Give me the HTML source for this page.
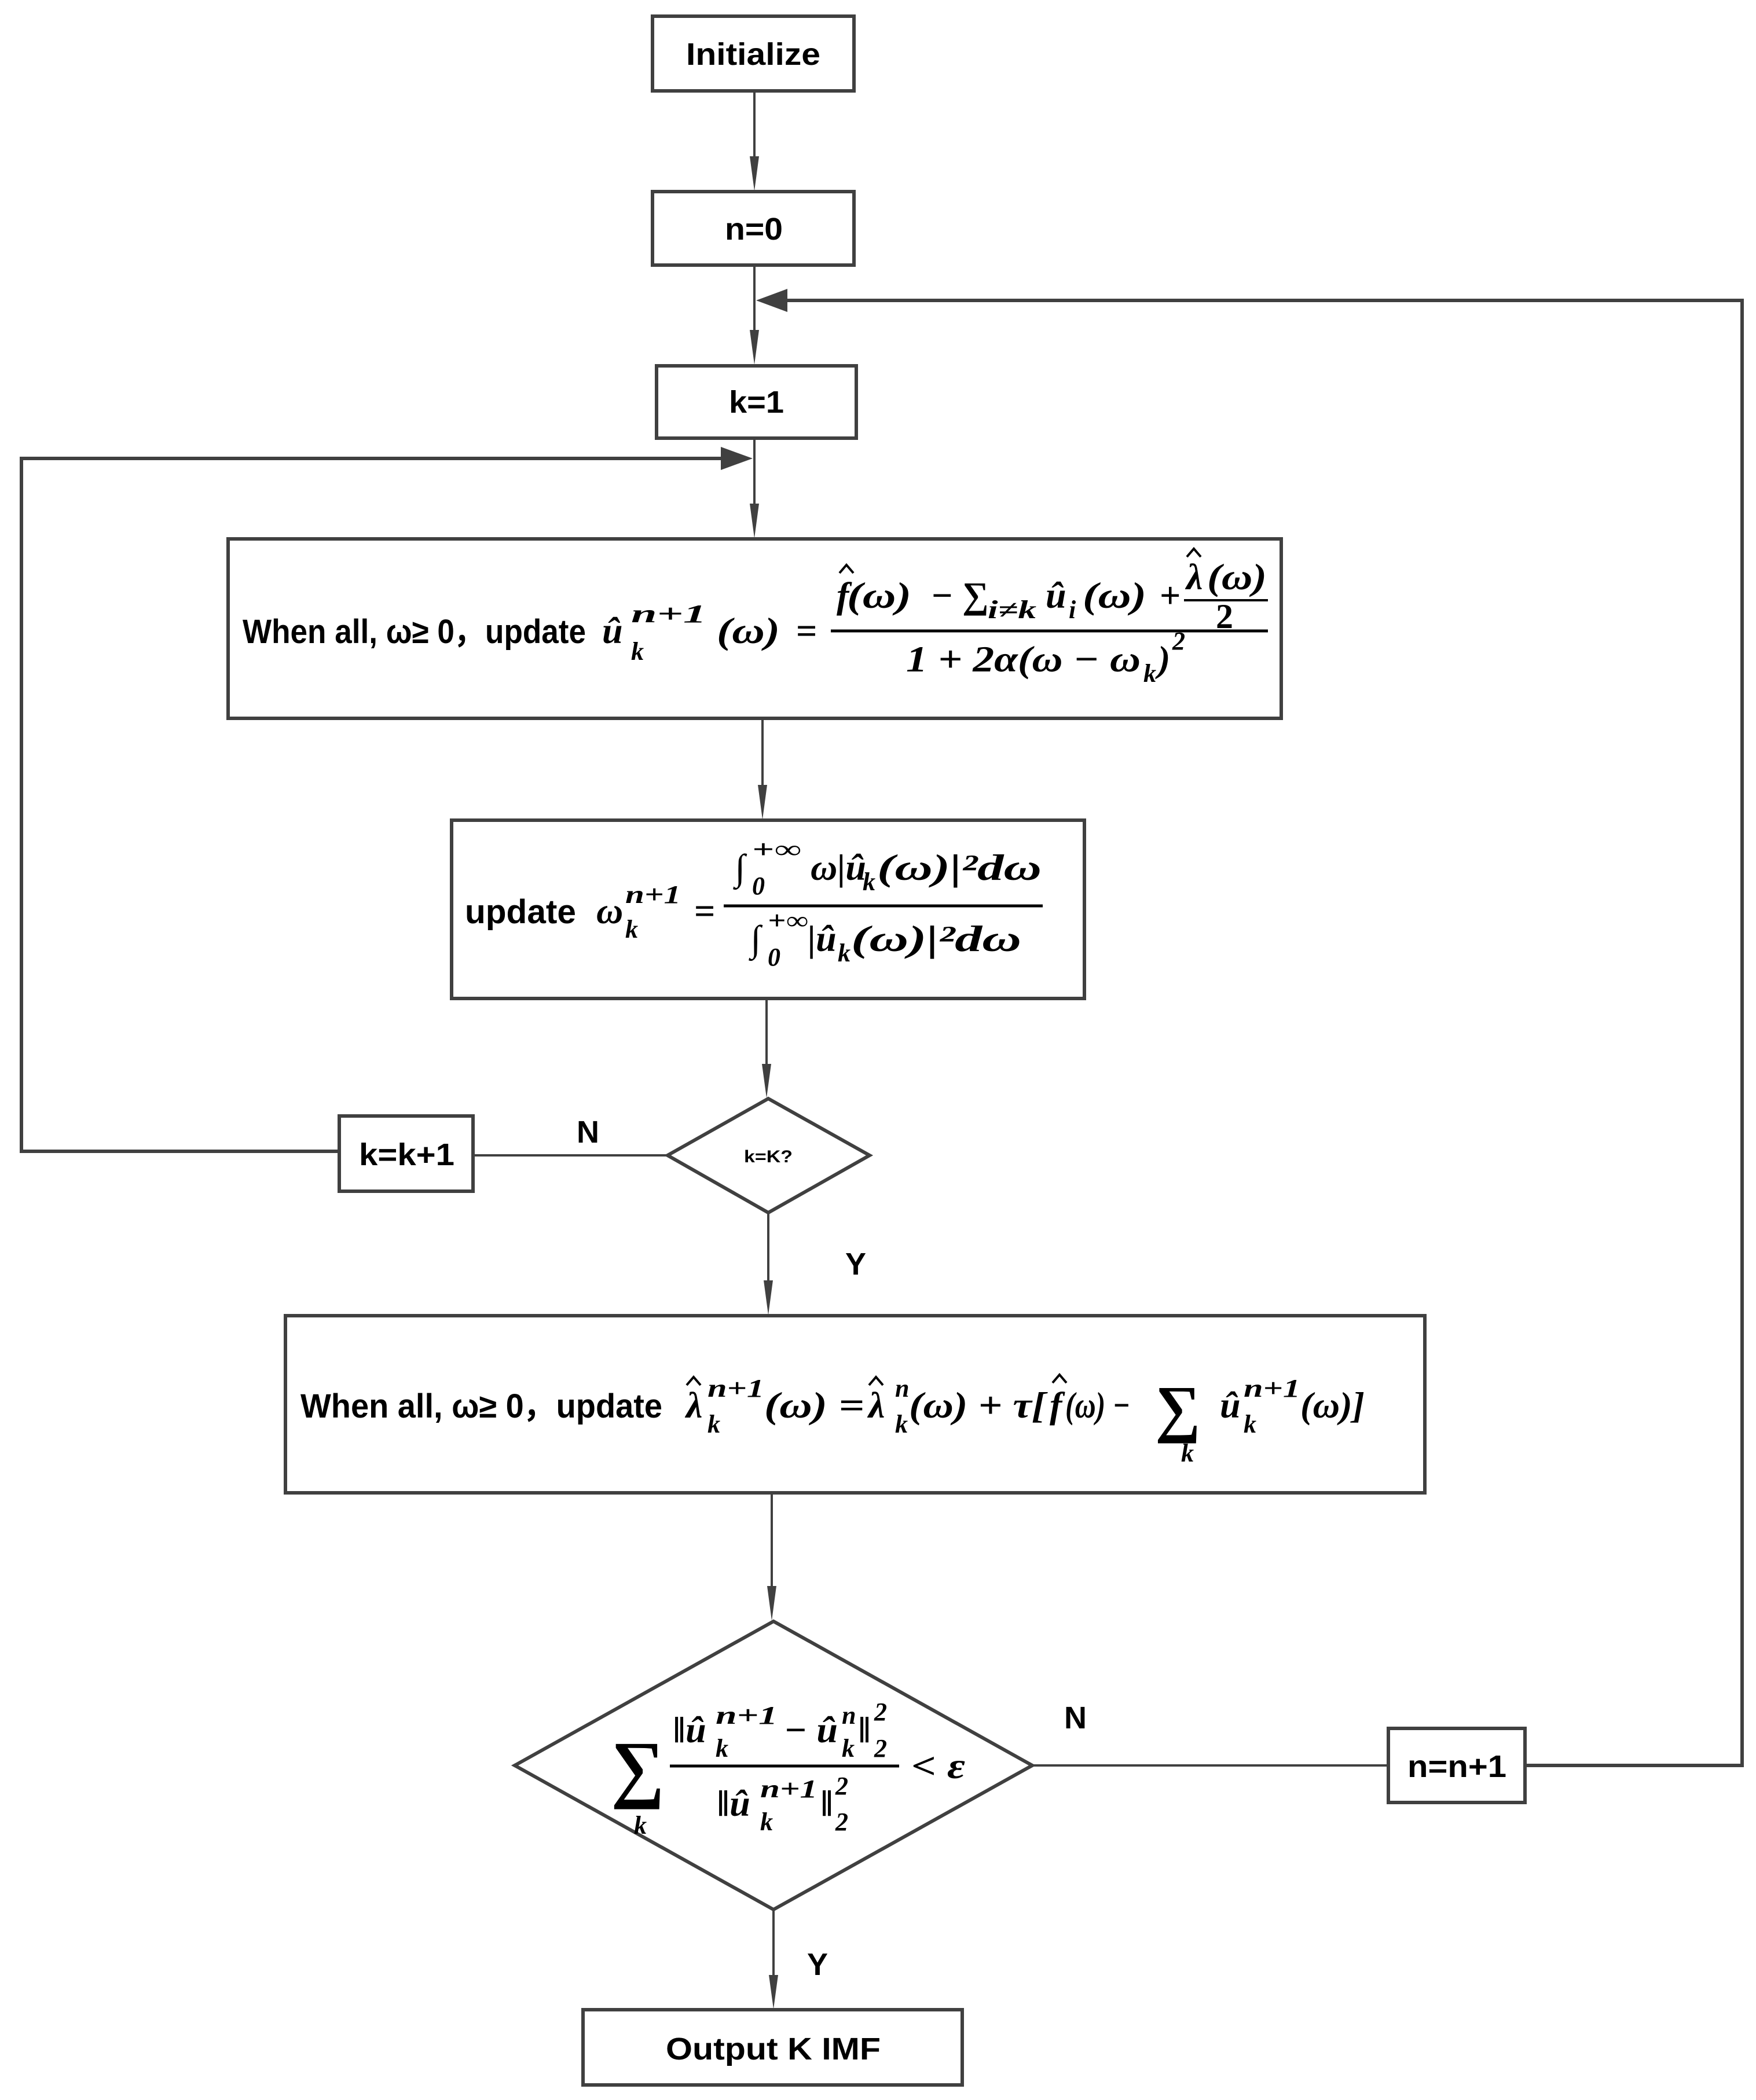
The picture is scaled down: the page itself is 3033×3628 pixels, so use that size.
<!DOCTYPE html>
<html><head><meta charset="utf-8"><style>html,body{margin:0;padding:0;background:#fff}svg{display:block}
.t{font-family:"Liberation Sans",sans-serif;font-weight:bold;fill:#000}
.m{font-family:"Liberation Serif","DejaVu Serif",serif;font-weight:bold;font-style:italic;fill:#000;font-size:64px}
.s{font-family:"Liberation Serif","DejaVu Serif",serif;font-weight:bold;font-style:italic;fill:#000;font-size:44px}
.r{font-family:"Liberation Serif","DejaVu Serif",serif;font-weight:bold;fill:#000}
.h{fill:none;stroke:#000;stroke-width:4}
</style></head><body>
<svg width="3033" height="3628" viewBox="0 0 3033 3628" xmlns="http://www.w3.org/2000/svg">
<g fill="none" stroke="#404040" stroke-width="6">
<rect x="1127" y="28" width="348" height="129"/>
<rect x="1127" y="331" width="348" height="127"/>
<rect x="1134" y="632" width="345" height="125"/>
<rect x="394" y="931" width="1819" height="310"/>
<rect x="780" y="1417" width="1093" height="308"/>
<polygon points="1327,1898 1502,1996 1327,2095 1153,1996"/>
<rect x="586" y="1928" width="231" height="130"/>
<rect x="493" y="2273" width="1968" height="306"/>
<polygon points="1336,2801 1783,3050 1336,3299 889,3050"/>
<rect x="2398" y="2986" width="236" height="128"/>
<rect x="1007" y="3472" width="655" height="130"/>
</g>
<g stroke="#404040" stroke-width="4" fill="none">
<line x1="1303" y1="157" x2="1303" y2="270"/>
<line x1="1303" y1="458" x2="1303" y2="570"/>
<line x1="1303" y1="757" x2="1303" y2="870"/>
<line x1="1317" y1="1241" x2="1317" y2="1356"/>
<line x1="1324" y1="1725" x2="1324" y2="1838"/>
<line x1="1327" y1="2095" x2="1327" y2="2212"/>
<line x1="1333" y1="2579" x2="1333" y2="2740"/>
<line x1="1336" y1="3299" x2="1336" y2="3412"/>
<line x1="1153" y1="1996" x2="817" y2="1996"/>
<line x1="1783" y1="3050" x2="2398" y2="3050"/>
</g>
<g fill="#404040">
<path d="M1295,270 L1311,270 L1303,330 Z"/>
<path d="M1295,570 L1311,570 L1303,630 Z"/>
<path d="M1295,870 L1311,870 L1303,930 Z"/>
<path d="M1309,1356 L1325,1356 L1317,1416 Z"/>
<path d="M1316,1838 L1332,1838 L1324,1897 Z"/>
<path d="M1319,2212 L1335,2212 L1327,2272 Z"/>
<path d="M1325,2740 L1341,2740 L1333,2800 Z"/>
<path d="M1328,3412 L1344,3412 L1336,3471 Z"/>
<path d="M1245,772 L1245,812 L1300,792 Z"/>
<path d="M1360,499 L1360,539 L1306,519 Z"/>
</g>
<g stroke="#404040" stroke-width="6" fill="none">
<polyline points="586,1989 37,1989 37,792 1250,792"/>
<polyline points="2634,3050 3009,3050 3009,519 1355,519"/>
</g>
<g class="t" font-size="54">
<text x="1185" y="112" textLength="232" lengthAdjust="spacingAndGlyphs">Initialize</text>
<text x="1252" y="414" textLength="100" lengthAdjust="spacingAndGlyphs">n=0</text>
<text x="1259" y="713" textLength="95" lengthAdjust="spacingAndGlyphs">k=1</text>
<text x="620" y="2013" textLength="165" lengthAdjust="spacingAndGlyphs">k=k+1</text>
<text x="2431" y="3070" textLength="171" lengthAdjust="spacingAndGlyphs">n=n+1</text>
<text x="1150" y="3558" textLength="371" lengthAdjust="spacingAndGlyphs">Output K IMF</text>
<text x="1285" y="2008" font-size="30" textLength="84" lengthAdjust="spacingAndGlyphs">k=K?</text>
<text x="996" y="1974">N</text>
<text x="1460" y="2202">Y</text>
<text x="1838" y="2986">N</text>
<text x="1394" y="3412">Y</text>
</g>
<!-- box1 -->
<text class="t" x="419" y="1111" font-size="58" textLength="593" lengthAdjust="spacingAndGlyphs">When all, ω≥ 0，update</text>
<text class="m" x="1040" y="1111" font-size="72">û</text>
<text class="s" x="1090" y="1075" textLength="130" lengthAdjust="spacingAndGlyphs">n+1</text>
<text class="s" x="1090" y="1140">k</text>
<text class="m" x="1238" y="1111" textLength="109" lengthAdjust="spacingAndGlyphs">(ω)</text>
<text class="r" x="1375" y="1111" font-size="64">=</text>
<line x1="1435" y1="1090" x2="2190" y2="1090" stroke="#000" stroke-width="5"/>
<text class="m" x="1445" y="1050">f</text>
<polyline class="h" points="1450,990 1462,976 1474,990"/>
<text class="m" x="1463" y="1050" textLength="111" lengthAdjust="spacingAndGlyphs">(ω)</text>
<text class="r" x="1609" y="1050" font-size="64">−</text>
<text class="r" x="1662" y="1050" font-size="64">∑</text>
<text class="s" x="1706" y="1068" textLength="84" lengthAdjust="spacingAndGlyphs">i≠k</text>
<text class="m" x="1806" y="1050">û</text>
<text class="s" x="1846" y="1068">i</text>
<text class="m" x="1870" y="1050" textLength="110" lengthAdjust="spacingAndGlyphs">(ω)</text>
<text class="r" x="2003" y="1050" font-size="64">+</text>
<text class="m" x="2049" y="1018">λ</text>
<polyline class="h" points="2050,962 2062,948 2074,962"/>
<text class="m" x="2085" y="1018" textLength="103" lengthAdjust="spacingAndGlyphs">(ω)</text>
<line x1="2045" y1="1037" x2="2190" y2="1037" stroke="#000" stroke-width="4"/>
<text class="r" x="2100" y="1085" font-size="60">2</text>
<text class="m" x="1565" y="1160" textLength="405" lengthAdjust="spacingAndGlyphs">1 + 2α(ω − ω</text>
<text class="s" x="1975" y="1178">k</text>
<text class="m" x="2000" y="1160">)</text>
<text class="s" x="2025" y="1122">2</text>
<!-- box2 -->
<text class="t" x="803" y="1595" font-size="58" textLength="192" lengthAdjust="spacingAndGlyphs">update</text>
<text class="m" x="1030" y="1595">ω</text>
<text class="s" x="1080" y="1560" textLength="96" lengthAdjust="spacingAndGlyphs">n+1</text>
<text class="s" x="1080" y="1620">k</text>
<text class="r" x="1199" y="1595" font-size="64">=</text>
<line x1="1250" y1="1565" x2="1801" y2="1565" stroke="#000" stroke-width="5"/>
<text class="m" x="1269" y="1520">∫</text>
<text class="s" x="1299" y="1545">0</text>
<text class="s" x="1299" y="1482" textLength="85" lengthAdjust="spacingAndGlyphs">+∞</text>
<text class="m" x="1400" y="1520">ω|û</text>
<text class="s" x="1490" y="1538">k</text>
<text class="m" x="1515" y="1520" textLength="284" lengthAdjust="spacingAndGlyphs">(ω)|²dω</text>
<text class="m" x="1296" y="1643">∫</text>
<text class="s" x="1326" y="1668">0</text>
<text class="s" x="1326" y="1605" textLength="70" lengthAdjust="spacingAndGlyphs">+∞</text>
<text class="m" x="1395" y="1643">|û</text>
<text class="s" x="1447" y="1661">k</text>
<text class="m" x="1470" y="1643" textLength="294" lengthAdjust="spacingAndGlyphs">(ω)|²dω</text>
<!-- box3 -->
<text class="t" x="519" y="2449" font-size="58" textLength="625" lengthAdjust="spacingAndGlyphs">When all, ω≥ 0，update</text>
<text class="m" x="1185" y="2449">λ</text>
<polyline class="h" points="1186,2393 1198,2379 1210,2393"/>
<text class="s" x="1222" y="2413" textLength="98" lengthAdjust="spacingAndGlyphs">n+1</text>
<text class="s" x="1222" y="2475">k</text>
<text class="m" x="1320" y="2449" textLength="173" lengthAdjust="spacingAndGlyphs">(ω) =</text>
<text class="m" x="1500" y="2449">λ</text>
<polyline class="h" points="1501,2393 1513,2379 1525,2393"/>
<text class="s" x="1546" y="2413">n</text>
<text class="s" x="1546" y="2475">k</text>
<text class="m" x="1570" y="2449" textLength="236" lengthAdjust="spacingAndGlyphs">(ω) + τ[</text>
<text class="m" x="1813" y="2449">f</text>
<polyline class="h" points="1818,2389 1830,2375 1842,2389"/>
<text class="m" x="1840" y="2449" textLength="112" lengthAdjust="spacingAndGlyphs">(ω) −</text>
<text class="r" x="1995" y="2470" font-size="110">∑</text>
<text class="s" x="2040" y="2525">k</text>
<text class="m" x="2107" y="2449">û</text>
<text class="s" x="2148" y="2413" textLength="98" lengthAdjust="spacingAndGlyphs">n+1</text>
<text class="s" x="2148" y="2475">k</text>
<text class="m" x="2246" y="2449" textLength="111" lengthAdjust="spacingAndGlyphs">(ω)]</text>
<!-- diamond2 -->
<text class="r" x="1055" y="3098" font-size="130">∑</text>
<text class="s" x="1095" y="3168">k</text>
<text class="m" x="1162" y="3010">‖û</text>
<text class="s" x="1236" y="2978" textLength="107" lengthAdjust="spacingAndGlyphs">n+1</text>
<text class="s" x="1236" y="3035">k</text>
<text class="m" x="1354" y="3010" textLength="93" lengthAdjust="spacingAndGlyphs">− û</text>
<text class="s" x="1454" y="2978">n</text>
<text class="s" x="1454" y="3035">k</text>
<text class="m" x="1482" y="3010">‖</text>
<text class="s" x="1510" y="2972">2</text>
<text class="s" x="1510" y="3035">2</text>
<line x1="1157" y1="3051" x2="1553" y2="3051" stroke="#000" stroke-width="5"/>
<text class="m" x="1238" y="3137">‖û</text>
<text class="s" x="1313" y="3105" textLength="99" lengthAdjust="spacingAndGlyphs">n+1</text>
<text class="s" x="1313" y="3162">k</text>
<text class="m" x="1417" y="3137">‖</text>
<text class="s" x="1443" y="3100">2</text>
<text class="s" x="1443" y="3162">2</text>
<text class="m" x="1574" y="3072" textLength="93" lengthAdjust="spacingAndGlyphs">&lt; ε</text>
</svg>
</body></html>
